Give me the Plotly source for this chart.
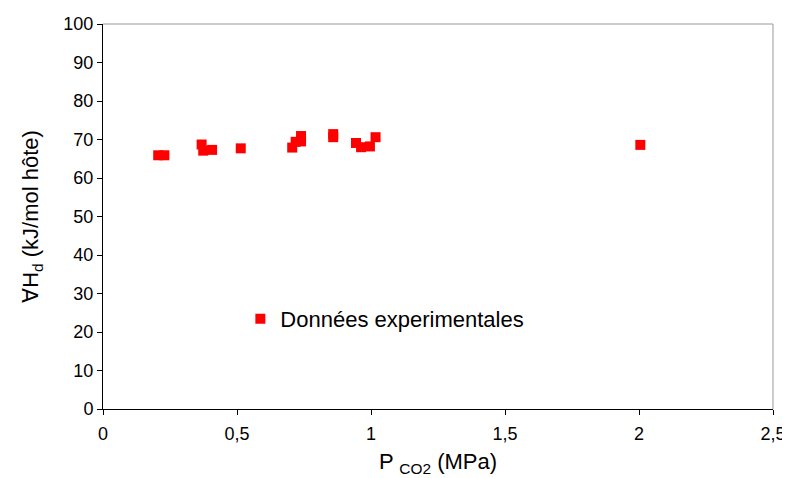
import plotly.graph_objects as go

# Data
p_co2 = [0.206, 0.229, 0.368, 0.374, 0.407, 0.514, 0.706, 0.719, 0.739, 0.739,
         0.859, 0.859, 0.944, 0.963, 0.996, 1.017, 2.005]
delta_h = [65.9, 65.9, 68.7, 67.1, 67.3, 67.7, 67.9, 69.4, 70.9, 69.5,
           71.4, 70.6, 69.1, 68.0, 68.2, 70.6, 68.6]

x_tickvals = [0, 0.5, 1, 1.5, 2, 2.5]
x_ticktext = ["0", "0,5", "1", "1,5", "2", "2,5"]
y_tickvals = [0, 10, 20, 30, 40, 50, 60, 70, 80, 90, 100]

series_name = "Données experimentales"

fig = go.Figure()
fig.add_trace(go.Scatter(
    x=p_co2, y=delta_h, mode="markers", name=series_name,
    marker=dict(symbol="square", size=10, color="#FF0000", line=dict(width=0)),
    showlegend=True,
))

font_family = "Liberation Sans, Arial, sans-serif"

# page body has an 8px margin, so the figure is sized to fill the rest of the window
fig.update_layout(
    width=782, height=470,
    margin=dict(l=95, r=17, t=16, b=69, autoexpand=False),
    paper_bgcolor="white", plot_bgcolor="white",
    font=dict(family=font_family, color="black", size=18),
    showlegend=True,
    legend=dict(x=0.205, y=0.234, xanchor="left", yanchor="middle",
                bgcolor="rgba(0,0,0,0)", font=dict(size=22),
                itemwidth=30),
    xaxis=dict(
        range=[0, 2.5], tickvals=x_tickvals, ticktext=x_ticktext,
        showgrid=False, zeroline=False, automargin=False,
        showline=True, linecolor="black", linewidth=1,
        ticks="outside", ticklen=5, tickcolor="black",
        tickfont=dict(size=18), ticklabelstandoff=3,
        title=dict(text="P <sub>CO2</sub> (MPa)", font=dict(size=22), standoff=11),
    ),
    yaxis=dict(
        range=[0, 100], tickvals=y_tickvals,
        showgrid=False, zeroline=False, automargin=False,
        showline=True, linecolor="black", linewidth=1,
        ticks="outside", ticklen=5, tickcolor="black",
        tickfont=dict(size=18),
        title=dict(text="∀H<sub>d</sub> (kJ/mol hôte)", font=dict(size=22), standoff=18),
    ),
    shapes=[
        dict(type="line", xref="paper", yref="paper", x0=0, x1=1, y0=1, y1=1,
             line=dict(color="#999999", width=1)),
        dict(type="line", xref="paper", yref="paper", x0=1, x1=1, y0=0, y1=1,
             line=dict(color="#999999", width=1)),
    ],
)

fig.write_html("out.html")
